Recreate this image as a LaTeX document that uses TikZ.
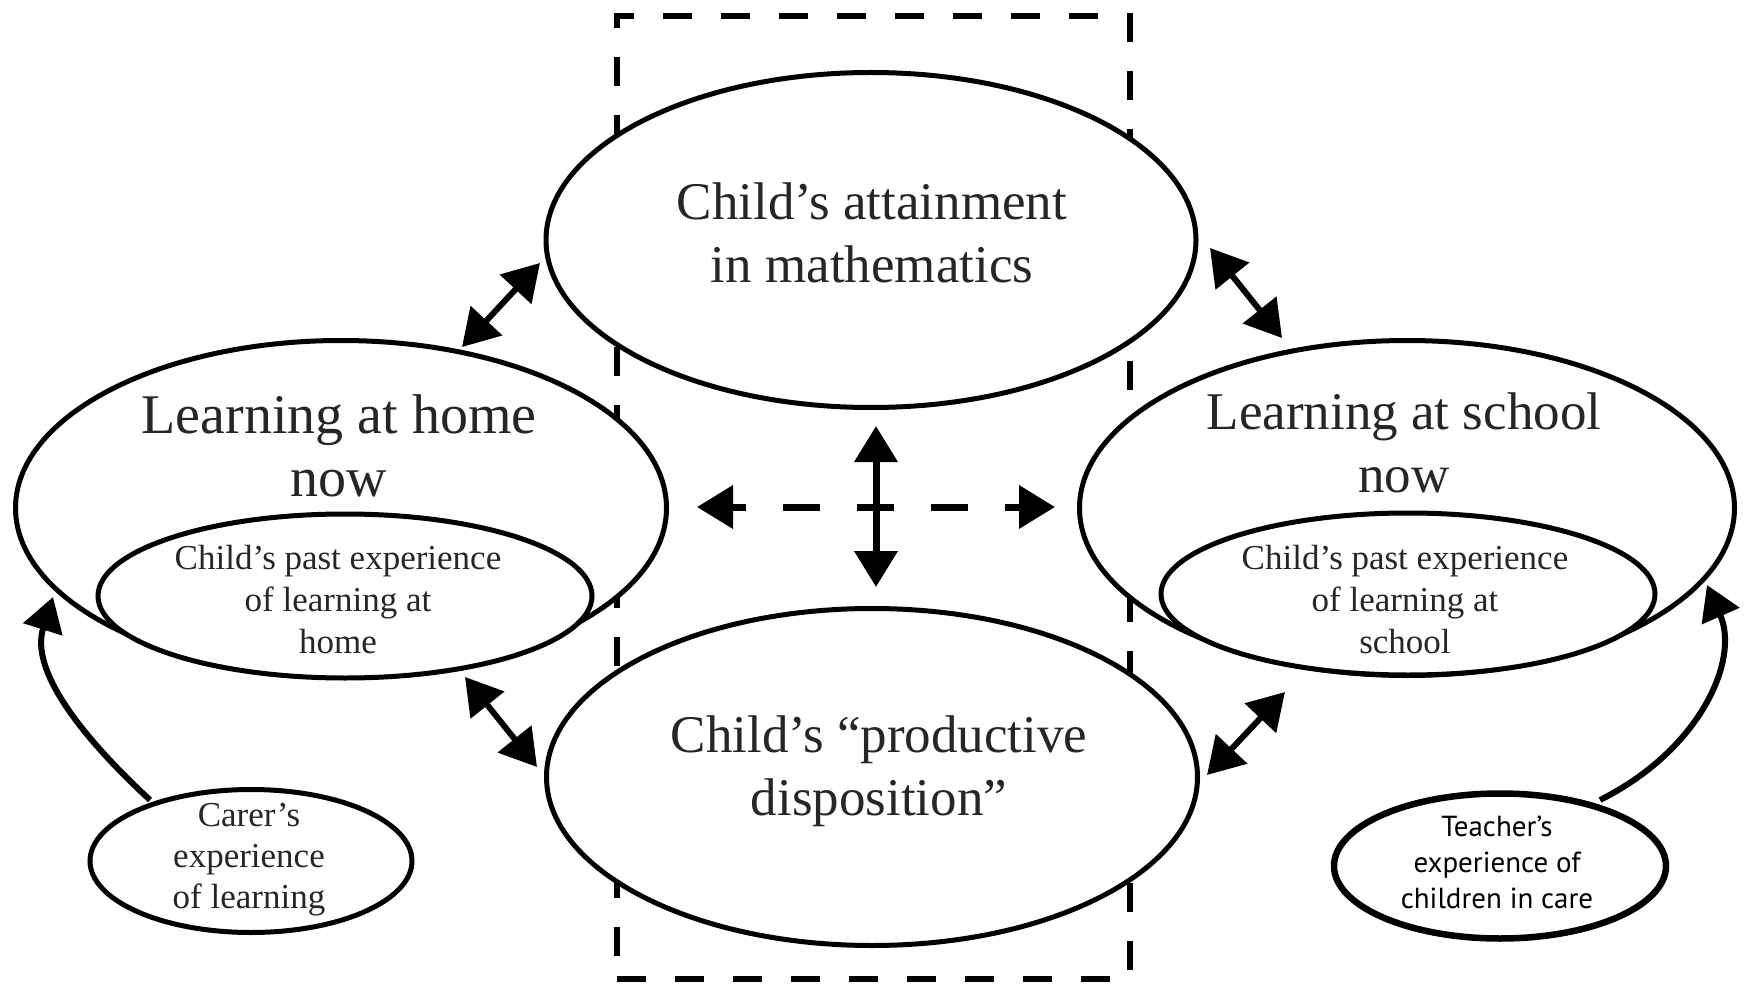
\documentclass[tikz,border=0pt]{standalone}
\usepackage{fontspec}
\setmainfont{Liberation Serif}
\newfontfamily\tsans{PT Sans}
\usetikzlibrary{arrows.meta,calc,shapes.geometric}
\definecolor{txt}{HTML}{262626}
\begin{document}
\begin{tikzpicture}[x=1pt,y=-1pt,
  bub/.style={ellipse, draw=black, line width=5pt, fill=white, inner sep=0pt},
  bigtxt/.style={font=\fontsize{53}{63}\selectfont, align=center, text=txt},
  midtxt/.style={font=\fontsize{35}{42}\selectfont, align=center, text=txt},
  smalltxt/.style={font=\fontsize{35}{41}\selectfont, align=center, text=txt},
  sanstxt/.style={font=\tsans\fontsize{29}{36}\selectfont, align=center, text=black},
  dbl/.style={line width=6pt, {Triangle[length=36pt,width=42pt]}-{Triangle[length=36pt,width=42pt]}},
  curv/.style={line width=6pt, -{Triangle[length=34pt,width=40pt]}},
  frame/.style={draw=black, line width=6pt, dash pattern=on 29pt off 29pt, inner sep=0pt}]
\useasboundingbox (0,0) rectangle (1749,984);

% dashed frame
\node[frame, minimum width=513, minimum height=963] (box) at (873.5,497.5) {};

% ellipses
\node[bub, minimum width=650, minimum height=335] (top) at (871,240) {};
\node[bub, minimum width=651, minimum height=337] (bot) at (872,777) {};
\node[bub, minimum width=651, minimum height=335] (left) at (341,508) {};
\node[bub, minimum width=494, minimum height=164] (leftin) at (345,596) {};
\node[bub, minimum width=655, minimum height=335] (right) at (1407,508) {};
\node[bub, minimum width=494, minimum height=162] (rightin) at (1408,594) {};
\node[bub, minimum width=322, minimum height=143] (carer) at (251,861) {};
\node[bub, line width=6.5pt, minimum width=332, minimum height=145] (teacher) at (1500,866) {};

% texts
\node[bigtxt] (topT) at (872,233) {Child’s attainment\\in mathematics};
\node[bigtxt, font=\fontsize{56}{63}\selectfont] (leftT) at (339,446) {Learning at home\\now};
\node[bigtxt] (rightT) at (1404,443) {Learning at school\\now};
\node[bigtxt] (botT) at (879,771) {Child’s “productive\\disposition”};
\node[midtxt] (leftinT) at (338,600) {Child’s past experience\\of learning at\\home};
\node[midtxt] (rightinT) at (1405,600) {Child’s past experience\\of learning at\\school};
\node[smalltxt] (carerT) at (249,860) {Carer’s\\experience\\of learning};
\node[sanstxt] (teacherT) at (1497,862) {Teacher’s\\experience of\\children in care};

% diagonal double arrows
\draw[dbl] ($(top)+(-331,23)$) -- ($(left)+(121,-161)$);
\draw[dbl] ($(top)+(339,8)$) -- ($(right)+(-125,-170)$);
\draw[dbl] ($(left)+(124,169)$) -- ($(bot)+(-335,-10)$);
\draw[dbl] ($(right)+(-122,184)$) -- ($(bot)+(335,-2)$);

% central arrows
\draw[dbl, line width=7pt] ($(top)+(5,186)$) -- ($(bot)+(4,-190)$);
\draw[dbl, line width=7pt, dash pattern=on 37pt off 37pt, dash phase=22pt]
  ($(left)+(356,-1)$) -- ($(right)+(-352,-1)$);

% curved arrows
\draw[curv] ($(carer)+(-101,-61)$) .. controls (80,735) and (30,670) .. ($(left)+(-288,89)$);
\draw[curv] ($(teacher)+(100,-66)$) .. controls (1700,750) and (1740,660) .. ($(right)+(300,77)$);
\end{tikzpicture}
\end{document}
